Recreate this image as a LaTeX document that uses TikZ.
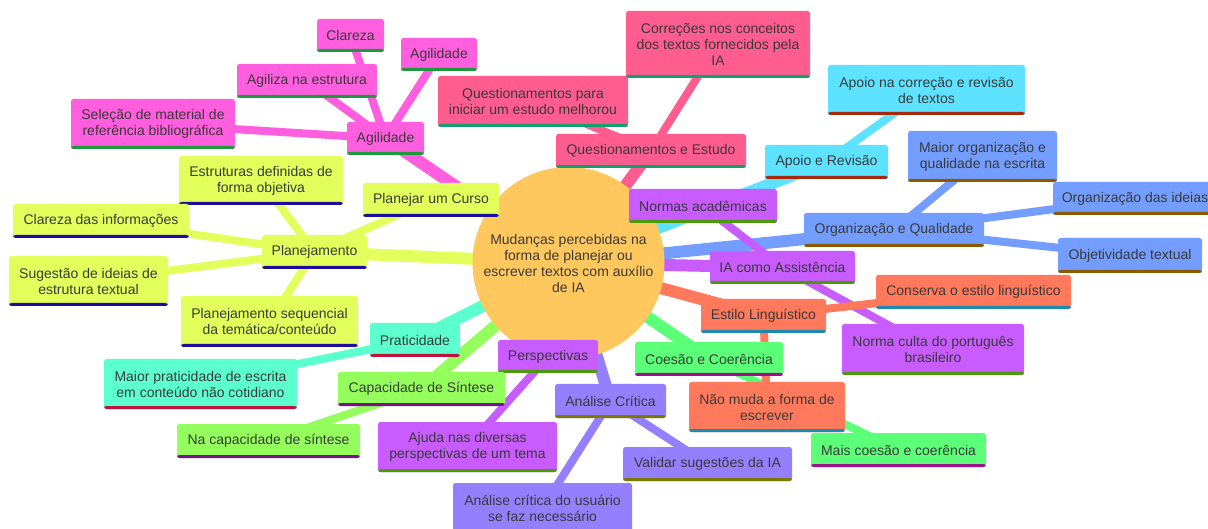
\documentclass[tikz,border=0pt]{standalone}
\usepackage{fontspec}
\setmainfont{Liberation Sans}
\usetikzlibrary{backgrounds}
\definecolor{txt}{HTML}{3A3A3A}
\definecolor{rootF}{HTML}{FFC85E}
\definecolor{pkF}{HTML}{FF5EDF}\definecolor{pkB}{HTML}{1A9A3A}
\definecolor{rdF}{HTML}{FF5C8F}\definecolor{rdB}{HTML}{159F6E}
\definecolor{cyF}{HTML}{5DE2FF}\definecolor{cyB}{HTML}{A8280C}
\definecolor{blF}{HTML}{739EFF}\definecolor{blB}{HTML}{8A5A00}
\definecolor{ylF}{HTML}{E3FF5C}\definecolor{ylB}{HTML}{1C0CA0}
\definecolor{puF}{HTML}{C95CFF}\definecolor{puB}{HTML}{4A9A0A}
\definecolor{orF}{HTML}{FF7A5C}\definecolor{orB}{HTML}{1A8AB0}
\definecolor{gnF}{HTML}{5CFF78}\definecolor{gnB}{HTML}{A0108A}
\definecolor{tlF}{HTML}{5CFFCE}\definecolor{tlB}{HTML}{C0103C}
\definecolor{lgF}{HTML}{94FF5C}\definecolor{lgB}{HTML}{7A1090}
\definecolor{lvF}{HTML}{9480FF}\definecolor{lvB}{HTML}{7A7A00}
\tikzset{
  every node/.style={font=\fontsize{14}{16}\selectfont, text=txt},
  box/.style 2 args={fill=#1, rounded corners=2.5pt, align=center, inner sep=0pt,
    path picture={\fill[#2] (path picture bounding box.south west) rectangle ([yshift=3pt]path picture bounding box.south east);}},
  pk/.style={box={pkF}{pkB}},
  rd/.style={box={rdF}{rdB}},
  cy/.style={box={cyF}{cyB}},
  bl/.style={box={blF}{blB}},
  yl/.style={box={ylF}{ylB}},
  pu/.style={box={puF}{puB}},
  orr/.style={box={orF}{orB}},
  gn/.style={box={gnF}{gnB}},
  tl/.style={box={tlF}{tlB}},
  lg/.style={box={lgF}{lgB}},
  lv/.style={box={lvF}{lvB}},
  sz/.style 2 args={minimum width=#1pt, minimum height=#2pt},
  br/.style={line width=12pt},
  lf/.style={line width=8pt},
  rootnode/.style={circle, fill=rootF, minimum size=192pt, inner sep=0pt, align=center}
}
\begin{document}
\begin{tikzpicture}[x=1pt,y=-1pt]
\useasboundingbox (0,0) rectangle (1208,529);
% root
\node[rootnode] (root) at (568.5,263) {Mudanças percebidas na\\forma de planejar ou\\escrever textos com auxílio\\de IA};
% pink
\node[pk, sz={77}{33}] (agl) at (385.5,138.5) {Agilidade};
\node[pk, sz={67}{33}] (clar) at (350.5,35.5) {Clareza};
\node[pk, sz={76}{33}] (agt) at (439,54.5) {Agilidade};
\node[pk, sz={140}{34}] (agz) at (307,81) {Agiliza na estrutura};
\node[pk, sz={164}{50}] (sel) at (153,124) {Seleção de material de\\referência bibliográfica};
% red-pink
\node[rd, sz={190}{34}] (qe) at (651,151) {Questionamentos e Estudo};
\node[rd, sz={190}{51}] (qp) at (533,101.5) {Questionamentos para\\iniciar um estudo melhorou};
\node[rd, sz={184}{67}] (cor) at (718,44.5) {Correções nos conceitos\\dos textos fornecidos pela\\IA};
% cyan
\node[cy, sz={123}{34}] (ar) at (826.5,162) {Apoio e Revisão};
\node[cy, sz={197}{50}] (ac) at (926.5,90) {Apoio na correção e revisão\\de textos};
% blue
\node[bl, sz={180}{34}] (oq) at (894,230) {Organização e Qualidade};
\node[bl, sz={149}{51}] (mo) at (982.5,156.5) {Maior organização e\\qualidade na escrita};
\node[bl, sz={164}{33}] (oi) at (1135,198.5) {Organização das ideias};
\node[bl, sz={144}{35}] (ot) at (1130,255.5) {Objetividade textual};
% yellow
\node[yl, sz={105}{34}] (pl) at (314.5,252) {Planejamento};
\node[yl, sz={136}{34}] (pc) at (431,200) {Planejar um Curso};
\node[yl, sz={164}{49}] (ed) at (261,180.5) {Estruturas definidas de\\forma objetiva};
\node[yl, sz={176}{34}] (ci) at (101,221) {Clareza das informações};
\node[yl, sz={159}{50}] (si) at (88.5,281) {Sugestão de ideias de\\estrutura textual};
\node[yl, sz={177}{51}] (ps) at (269.5,321.5) {Planejamento sequencial\\da temática/conteúdo};
% purple
\node[pu, sz={145}{33}] (ia) at (782.5,267.5) {IA como Assistência};
\node[pu, sz={148}{34}] (na) at (703,206) {Normas acadêmicas};
\node[pu, sz={182}{51}] (nc) at (933,349.5) {Norma culta do português\\brasileiro};
\node[pu, sz={100}{33}] (pe) at (548,356.5) {Perspectivas};
\node[pu, sz={179}{50}] (aj) at (467.5,447) {Ajuda nas diversas\\perspectivas de um tema};
% orange
\node[orr, sz={125}{34}] (el) at (763.5,316) {Estilo Linguístico};
\node[orr, sz={195}{34}] (ce) at (973.5,292) {Conserva o estilo linguístico};
\node[orr, sz={156}{50}] (nm) at (767,407) {Não muda a forma de\\escrever};
% green
\node[gn, sz={148}{34}] (cc) at (709,359) {Coesão e Coerência};
\node[gn, sz={175}{34}] (mc) at (898.5,450) {Mais coesão e coerência};
% teal
\node[tl, sz={90}{34}] (pr) at (415,340) {Praticidade};
\node[tl, sz={193}{50}] (mp) at (200.5,384) {Maior praticidade de escrita\\em conteúdo não cotidiano};
% light green
\node[lg, sz={167}{34}] (cs) at (421.5,389) {Capacidade de Síntese};
\node[lg, sz={183}{34}] (ns) at (268.5,441) {Na capacidade de síntese};
% lavender
\node[lv, sz={111}{34}] (ak) at (610.5,401) {Análise Crítica};
\node[lv, sz={169}{34}] (vs) at (707.5,464) {Validar sugestões da IA};
\node[lv, sz={179}{50}] (au) at (542.5,508) {Análise crítica do usuário\\se faz necessário};
% connectors
\begin{scope}[on background layer]
\fill[white] (0,0) rectangle (1208,529);
\draw[br, pkF] (root.center) -- (agl.center);
\draw[lf, pkF] (agl.center) -- (clar.center) (agl.center) -- (agt.center) (agl.center) -- (agz.center) (agl.center) -- (sel.center);
\draw[br, rdF] (root.center) -- (qe.center);
\draw[lf, rdF] (qe.center) -- (qp.center) (qe.center) -- (cor.center);
\draw[br, cyF] (root.center) -- (ar.center);
\draw[lf, cyF] (ar.center) -- (ac.center);
\draw[br, blF] (root.center) -- (oq.center);
\draw[lf, blF] (oq.center) -- (mo.center) (oq.center) -- (oi.center) (oq.center) -- (ot.center);
\draw[br, ylF] (root.center) -- (pl.center);
\draw[lf, ylF] (pl.center) -- (pc.center) (pl.center) -- (ed.center) (pl.center) -- (ci.center) (pl.center) -- (si.center) (pl.center) -- (ps.center);
\draw[br, puF] (root.center) -- (ia.center);
\draw[lf, puF] (ia.center) -- (na.center) (ia.center) -- (nc.center);
\draw[br, puF] (root.center) -- (pe.center);
\draw[lf, puF] (pe.center) -- (aj.center);
\draw[br, gnF] (root.center) -- (cc.center);
\draw[lf, gnF] (cc.center) -- (mc.center);
\draw[br, orF] (root.center) -- (el.center);
\draw[lf, orF] (el.center) -- (ce.center) (el.center) -- (nm.center);
\draw[br, tlF] (root.center) -- (pr.center);
\draw[lf, tlF] (pr.center) -- (mp.center);
\draw[br, lgF] (root.center) -- (cs.center);
\draw[lf, lgF] (cs.center) -- (ns.center);
\draw[br, lvF] (root.center) -- (ak.center);
\draw[lf, lvF] (ak.center) -- (vs.center) (ak.center) -- (au.center);
\end{scope}
\end{tikzpicture}
\end{document}
